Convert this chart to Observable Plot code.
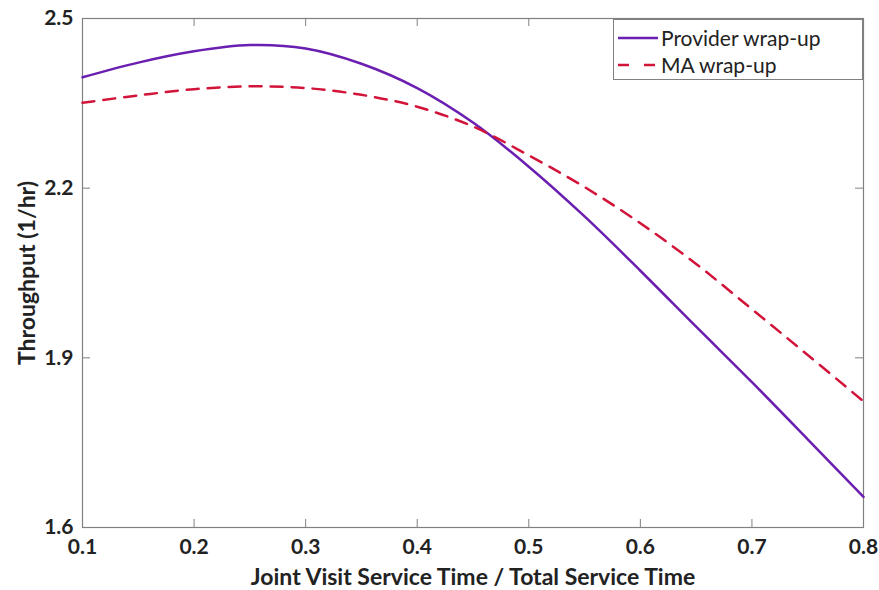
<!DOCTYPE html>
<html>
<head>
<meta charset="utf-8">
<script src="https://cdn.jsdelivr.net/npm/d3@7"></script>
<script src="https://cdn.jsdelivr.net/npm/@observablehq/plot@0.6"></script>
<style>
  body { margin: 0; background: #fff; }
  #wrap { position: relative; width: 879px; height: 590px; font-family: Lato, "Open Sans", sans-serif; }
  #legend { position: absolute; left: 613px; top: 19px; width: 250px; height: 61px; border: 1px solid #808080; background: #fff; box-sizing: border-box; font-size: 21px; line-height: 25px; color: #222; }
  .item { position: absolute; left: 4px; display: flex; align-items: center; }
  .item svg { margin-right: 3px; }
</style>
</head>
<body>
<div id="wrap">
  <div id="chart"></div>
  <div id="legend">
    <div class="item" style="top:5px"><svg width="40" height="10"><line x1="0" y1="5" x2="40" y2="5" stroke="#6A1FB0" stroke-width="2.5"/></svg>Provider wrap-up</div>
    <div class="item" style="top:32px"><svg width="40" height="10"><line x1="0" y1="5" x2="40" y2="5" stroke="#D2143A" stroke-width="2.5" stroke-dasharray="11,15"/></svg>MA wrap-up</div>
  </div>
</div>
<script>
const xValues = [0.10, 0.15, 0.20, 0.25, 0.30, 0.35, 0.40, 0.45, 0.50, 0.55, 0.60, 0.65, 0.70, 0.75, 0.80];
const providerWrapUp = [2.396, 2.422, 2.442, 2.453, 2.447, 2.420, 2.377, 2.316, 2.238, 2.150, 2.054, 1.955, 1.857, 1.756, 1.654];
const maWrapUp = [2.351, 2.364, 2.375, 2.380, 2.377, 2.365, 2.344, 2.309, 2.258, 2.202, 2.138, 2.066, 1.986, 1.905, 1.823];
const xTicks = [0.1, 0.2, 0.3, 0.4, 0.5, 0.6, 0.7, 0.8];
const yTicks = [1.6, 1.9, 2.2, 2.5];

const provider = xValues.map((x, i) => ({x, y: providerWrapUp[i]}));
const ma = xValues.map((x, i) => ({x, y: maWrapUp[i]}));

const W = 879, H = 590, mL = 82, mR = 16, mT = 18, mB = 63;
const pw = W - mL - mR, ph = H - mT - mB;
const tk = 8;

const chart = Plot.plot({
  width: W, height: H,
  marginLeft: mL, marginRight: mR, marginTop: mT, marginBottom: mB,
  style: {fontFamily: "Lato, 'Open Sans', sans-serif", background: "#fff"},
  x: {domain: [0.1, 0.8]},
  y: {domain: [1.6, 2.5]},
  marks: [
    Plot.frame({stroke: "#808080", strokeWidth: 1.2}),
    Plot.tickX(xTicks, {x: d => d, insetTop: ph - tk, stroke: "#808080"}),
    Plot.tickX(xTicks, {x: d => d, insetBottom: ph - tk, stroke: "#808080"}),
    Plot.tickY(yTicks, {y: d => d, insetRight: pw - tk, stroke: "#808080"}),
    Plot.tickY(yTicks, {y: d => d, insetLeft: pw - tk, stroke: "#808080"}),
    Plot.axisX(xTicks, {tickSize: 0, tickPadding: 12, tickFormat: d3.format(".1f"), fontSize: 21, fontWeight: "bold", color: "#222",
      label: "Joint Visit Service Time / Total Service Time", labelAnchor: "center", labelArrow: "none", labelOffset: 57}),
    Plot.axisY(yTicks, {tickSize: 0, tickPadding: 9, tickFormat: d3.format(".1f"), fontSize: 21, fontWeight: "bold", color: "#222",
      label: "Throughput (1/hr)", labelAnchor: "center", labelArrow: "none", labelOffset: 64}),
    Plot.line(provider, {x: "x", y: "y", stroke: "#6A1FB0", strokeWidth: 2.5, curve: "catmull-rom"}),
    Plot.line(ma, {x: "x", y: "y", stroke: "#D2143A", strokeWidth: 2.5, strokeDasharray: "12,9", curve: "catmull-rom"})
  ]
});
document.getElementById("chart").appendChild(chart);
chart.querySelectorAll("[aria-label='x-axis label'] text, [aria-label='y-axis label'] text").forEach(t => {
  t.setAttribute("font-size", 23); t.setAttribute("font-weight", "bold"); t.style.fontSize = "23px"; t.style.fontWeight = "bold";
});
</script>
</body>
</html>
